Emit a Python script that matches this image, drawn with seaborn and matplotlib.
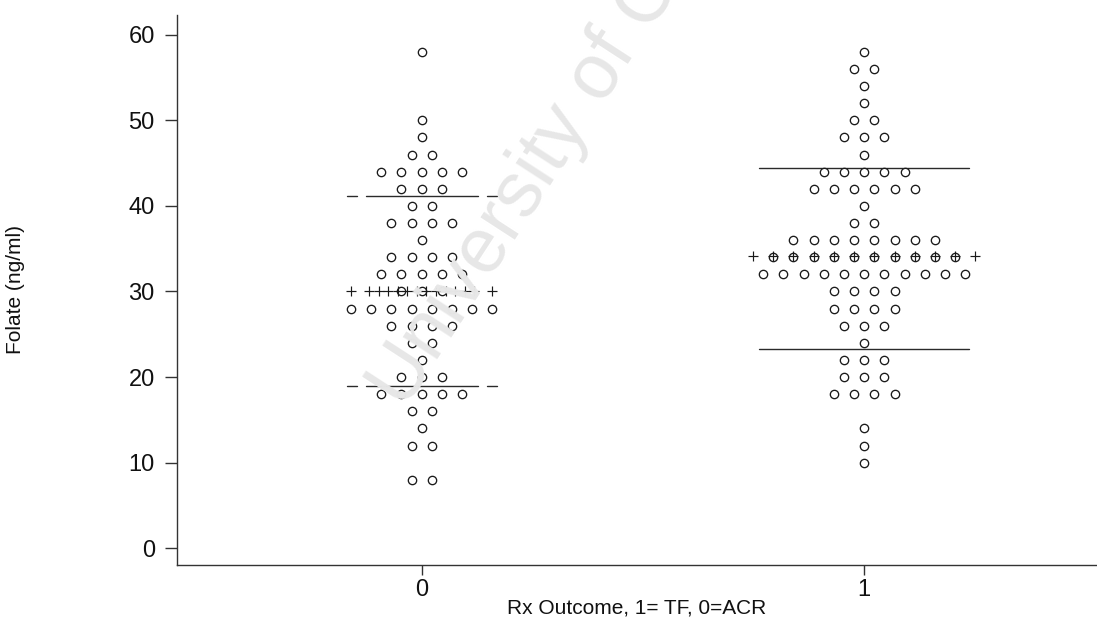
import numpy as np
import pandas as pd
import matplotlib
matplotlib.use("Agg")
import matplotlib.pyplot as plt
import seaborn as sns

# Folate values (ng/ml) and number of patients at each value, by Rx outcome
group0_values = [58, 50, 48, 46, 44, 42, 40, 38, 36, 34, 32, 30, 28, 26, 24, 22, 20, 18, 16, 14, 12, 8]
group0_counts = [1, 1, 1, 2, 5, 3, 2, 4, 1, 4, 5, 3, 8, 4, 2, 1, 3, 5, 2, 1, 2, 2]

group1_values = [58, 56, 54, 52, 50, 48, 46, 44, 42, 40, 38, 36, 34, 32, 30, 28, 26, 24, 22, 20, 18, 14, 12, 10]
group1_counts = [1, 2, 1, 1, 2, 3, 1, 5, 6, 1, 2, 8, 10, 11, 4, 4, 3, 1, 3, 3, 4, 1, 1, 1]

# group mean and the lower / upper bars (mean -/+ SD)
group_means = [30.1, 34.2]
bar_low = [19.0, 23.3]
bar_high = [41.2, 44.4]

outcomes = [0, 1]
x_ticklabels = ["0", "1"]
y_ticks = [0, 10, 20, 30, 40, 50, 60]

SPACING = 0.0457  # horizontal distance between neighbouring dots (x units)

groups = {0: (group0_values, group0_counts), 1: (group1_values, group1_counts)}

rows = []
for g, (vals, cnts) in groups.items():
    for v, c in zip(vals, cnts):
        for i in range(c):
            rows.append({"outcome": g,
                         "x": g + (i - (c - 1) / 2) * SPACING,
                         "folate": v})
df = pd.DataFrame(rows)

sns.set_theme(style="white")
plt.rcParams["font.family"] = ["Liberation Sans", "DejaVu Sans"]

fig = plt.figure(figsize=(10.97, 6.25), dpi=100)
ax = fig.add_axes([177 / 1097, 60 / 625, 920 / 1097, 550 / 625])

# faint watermark behind the data
fig.text(0.369, 0.344, "University of C", rotation=57,
         rotation_mode="anchor", ha="left", va="baseline",
         fontsize=56, color="#e7e7e7", zorder=0)
ax.patch.set_alpha(0)

sns.scatterplot(data=df, x="x", y="folate", ax=ax, marker="o", s=36,
                facecolor="white", edgecolor="#1a1a1a", linewidth=0.95,
                legend=False, zorder=3)

# mean (row of pluses) and the SD bars for each group
for g, (vals, cnts) in groups.items():
    m = group_means[g]
    half = (max(cnts) - 1) / 2
    if g == 0:
        inner = np.linspace(-2.6, 2.6, 12)
        px = np.concatenate([[-half], inner, [half]])
    else:
        px = np.arange(-half - 0.5, half + 0.51, 1.0)
    ax.scatter(g + px * SPACING, np.full(len(px), m), marker="+", s=42,
               color="#1a1a1a", linewidth=0.85, zorder=4)
    ext = half + 0.2
    if g == 0:
        segs = [(-ext, -ext + 0.5), (-ext + 0.95, ext - 0.9), (ext - 0.45, ext)]
    else:
        segs = [(-ext, ext)]
    for level in (bar_low[g], bar_high[g]):
        for a, b in segs:
            ax.plot([g + a * SPACING, g + b * SPACING], [level, level],
                    color="#2a2a2a", lw=1.0, zorder=2)

ax.set_xlim(-0.553, 1.526)
ax.set_ylim(-1.95, 62.3)
ax.set_xticks(outcomes)
ax.set_xticklabels(x_ticklabels)
ax.set_yticks(y_ticks)

for side in ("top", "right"):
    ax.spines[side].set_visible(False)
for side in ("left", "bottom"):
    ax.spines[side].set_color("#333333")
    ax.spines[side].set_linewidth(1.0)

ax.tick_params(axis="y", which="major", direction="out", length=9,
               width=1.0, color="#333333", labelsize=17, labelcolor="#111111",
               left=True, pad=7)
ax.tick_params(axis="x", which="major", direction="out", length=7,
               width=1.0, color="#333333", labelsize=17, labelcolor="#111111",
               bottom=True, pad=3)

ax.set_xlabel("Rx Outcome, 1= TF, 0=ACR", fontsize=15, color="#111111")
ax.xaxis.label.set_va("center")
ax.xaxis.set_label_coords(0.5, -(608 - 565) / 550)

ax.set_ylabel("Folate (ng/ml)", fontsize=15, color="#111111")
ax.yaxis.label.set_va("center")
ax.yaxis.set_label_coords((16 - 177) / 920, 0.5)

fig.savefig("out.png", dpi=100)
